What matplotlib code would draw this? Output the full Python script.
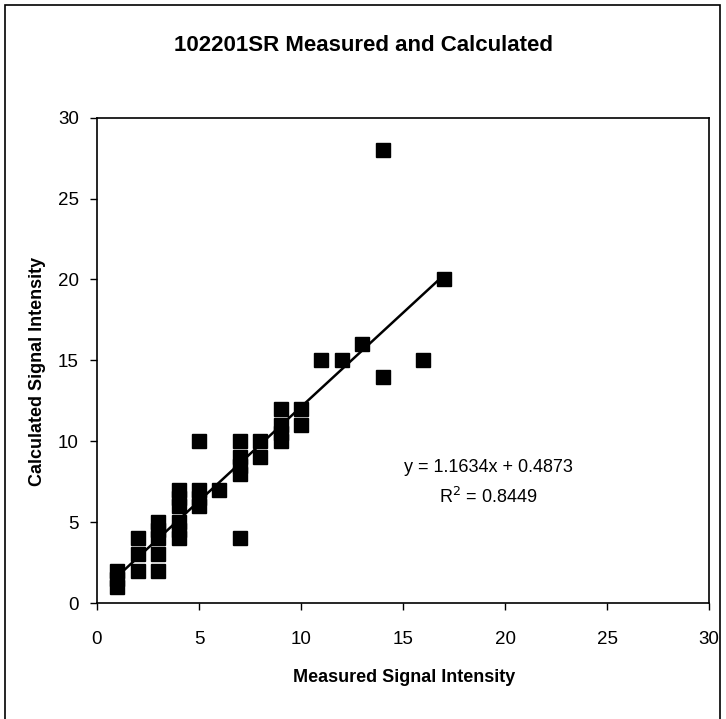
import matplotlib
matplotlib.use("Agg")
import matplotlib.pyplot as plt
import numpy as np
from matplotlib.patches import Rectangle

plt.rcParams['font.family'] = ['Liberation Sans Narrow', 'Liberation Sans', 'DejaVu Sans']

# measured vs calculated signal intensity
measured = [1, 1, 1,
            2, 2, 2,
            3, 3, 3, 3, 3,
            4, 4, 4, 4, 4, 4,
            5, 5, 5, 5,
            6,
            7, 7, 7, 7, 7,
            8, 8,
            9, 9, 9, 9,
            10, 10,
            11, 12, 13, 14, 14, 16, 17]
calculated = [1, 1.5, 2,
              2, 3, 4,
              2, 3, 4, 4.5, 5,
              4, 4.5, 5, 6, 6.5, 7,
              6, 6.5, 7, 10,
              7,
              4, 8, 8.5, 9, 10,
              9, 10,
              10, 10.5, 11, 12,
              11, 12,
              15, 15, 16, 14, 28, 15, 20]

slope = 1.1634
intercept = 0.4873
r2 = 0.8449

fig = plt.figure(figsize=(7.26, 7.19), dpi=100)
ax = fig.add_axes([0.1336, 0.1613, 0.843, 0.675])

ax.plot(measured, calculated, 's', color='black', ms=10, zorder=3)
xl = np.array([min(measured), max(measured)])
ax.plot(xl, slope * xl + intercept, color='black', lw=1.8, zorder=2)

ax.set_xlim(0, 30)
ax.set_ylim(0, 30)
ax.set_xticks(range(0, 31, 5))
ax.set_yticks(range(0, 31, 5))
ax.tick_params(labelsize=13.5, direction='out', length=5, width=1)
ax.tick_params(axis='x', pad=15)
ax.tick_params(axis='y', pad=8)
for s in ax.spines.values():
    s.set_linewidth(1.2)

fig.text(0.5, 0.937, '102201SR Measured and Calculated', ha='center', va='center',
         fontsize=16, fontweight='bold')
fig.text(0.556, 0.058, 'Measured Signal Intensity', ha='center', va='center',
         fontsize=13, fontweight='bold')
fig.text(0.052, 0.483, 'Calculated Signal Intensity', ha='center', va='center',
         rotation=90, fontsize=13, fontweight='bold')

ax.text(0.64, 0.28, 'y = 1.1634x + 0.4873', transform=ax.transAxes, ha='center',
        va='center', fontsize=13)
ax.text(0.64, 0.218, 'R$^2$ = %.4f' % r2, transform=ax.transAxes, ha='center',
        va='center', fontsize=13)

fig.patches.append(Rectangle((0.007, -0.01), 0.985, 1.003, transform=fig.transFigure,
                             fill=False, edgecolor='black', lw=1.2))

fig.savefig('out.png', dpi=100)
